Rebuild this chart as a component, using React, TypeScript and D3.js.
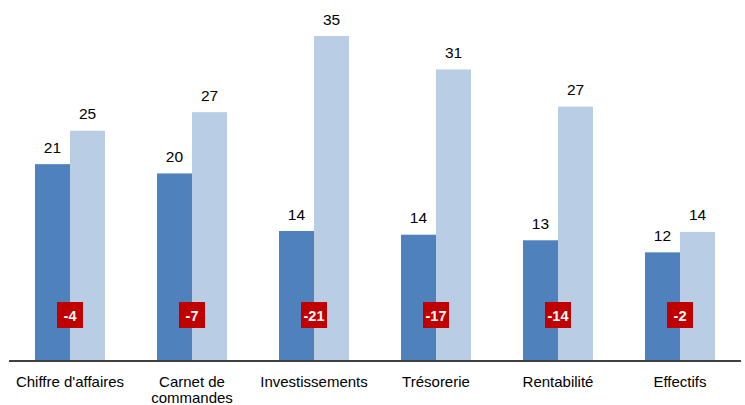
import React from "react";
import * as d3 from "d3";

const categories = ["Chiffre d'affaires", "Carnet de\ncommandes", "Investissements", "Trésorerie", "Rentabilité", "Effectifs"];
const seriesA = [21.2, 20.2, 14.0, 13.6, 13.0, 11.7];
const seriesB = [24.8, 26.8, 35.0, 31.4, 27.4, 13.9];
const diffLabels = ["-4", "-7", "-21", "-17", "-14", "-2"];

const W = 745;
const H = 405;
const FONT = "Arial, 'Liberation Sans', sans-serif";

export default function App() {
  const x = d3.scaleBand<string>().domain(categories).range([9, 741]).paddingInner(0.426).paddingOuter(0.213);
  const sub = d3.scaleBand<string>().domain(["a", "b"]).range([0, x.bandwidth()]).padding(0);
  const y = d3.scaleLinear().domain([0, 35]).range([361, 36]);
  const base = y(0);

  return (
    <svg width={W} height={H} style={{ position: "absolute", left: 0, top: 0 }} fontFamily={FONT}>
      <rect width={W} height={H} fill="#ffffff" />
      {categories.map((c, i) => {
        const x0 = x(c) as number;
        const xa = x0 + (sub("a") as number);
        const xb = x0 + (sub("b") as number);
        const bw = sub.bandwidth();
        const cx = x0 + x.bandwidth() / 2;
        const lines = c.split("\n");
        return (
          <g key={c}>
            <rect x={xa} y={y(seriesA[i])} width={bw} height={base - y(seriesA[i])} fill="#4F81BD" />
            <rect x={xb} y={y(seriesB[i])} width={bw} height={base - y(seriesB[i])} fill="#B9CDE5" />
            <text x={xa + bw / 2} y={y(seriesA[i]) - 11.5} textAnchor="middle" fontSize={15.5} fill="#000">
              {Math.round(seriesA[i])}
            </text>
            <text x={xb + bw / 2} y={y(seriesB[i]) - 11.5} textAnchor="middle" fontSize={15.5} fill="#000">
              {Math.round(seriesB[i])}
            </text>
            <rect x={cx - 13} y={302} width={26} height={26} fill="#C00000" />
            <text x={cx} y={320.5} textAnchor="middle" fontSize={14.5} fontWeight="bold" fill="#ffffff">
              {diffLabels[i]}
            </text>
            <text textAnchor="middle" fontSize={15} fill="#000">
              {lines.map((l, j) => (
                <tspan key={j} x={cx} y={386.5 + j * 16}>
                  {l}
                </tspan>
              ))}
            </text>
          </g>
        );
      })}
      <line x1={9} x2={741} y1={base} y2={base} stroke="#404040" strokeWidth={2} />
    </svg>
  );
}
